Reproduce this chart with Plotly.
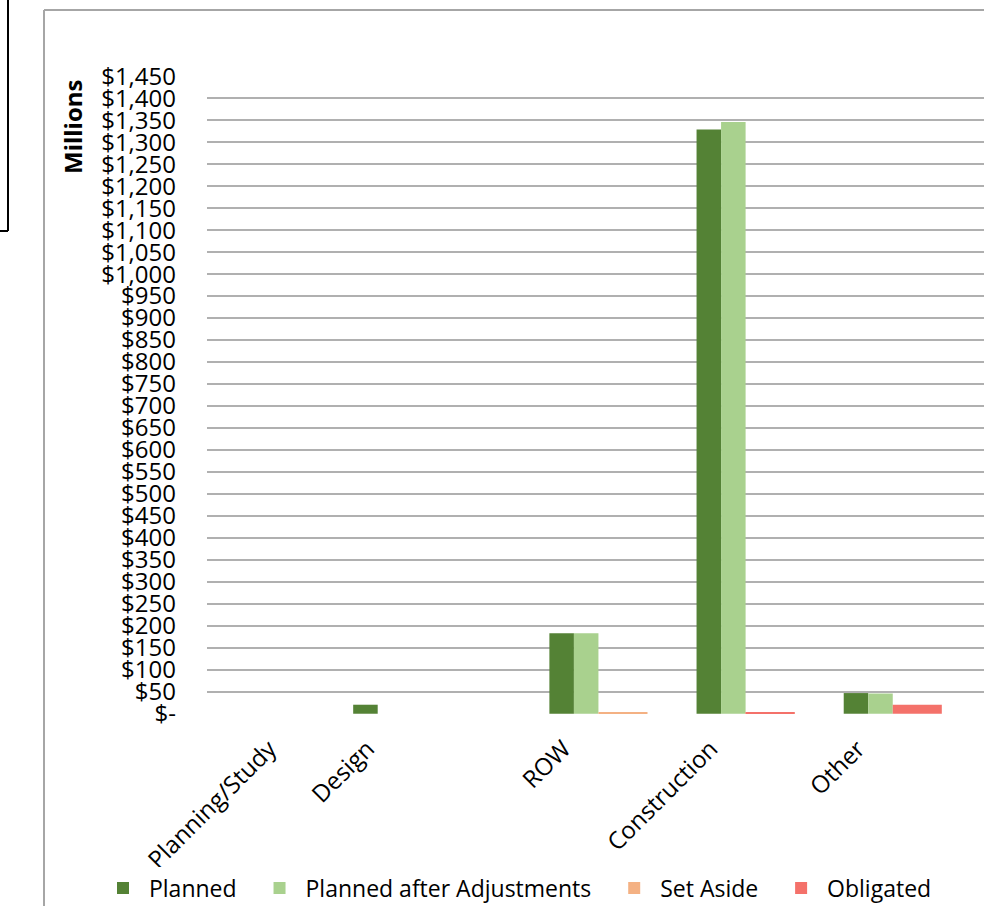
import plotly.graph_objects as go

# ---- data ----
categories = ["Planning/Study", "Design", "ROW", "Construction", "Other"]
category_slots = [0, 2, 6, 9, 12]          # uneven category spacing seen on the axis
planned = [0, 20.5, 183, 1329, 47]
planned_adj = [0, 0, 183, 1346, 46]
set_aside = [0, 0, 3, 3, 0]
obligated = [0, 0, 0, 2.5, 20.5]
series_names = ["Planned", "Planned after Adjustments", "Set Aside", "Obligated"]
y_ticks = list(range(0, 1451, 50))
y_tick_labels = ["$-" if v == 0 else "${:,}".format(v) for v in y_ticks]

W, H = 984, 906
L, R, T, B = 207, 0, 76, 192
PW, PH = W - L - R, H - T - B


def px(x):
    return (x - L) / PW


def py(y):
    return (H - B - y) / PH


FONT = "Open Sans"
NB = "\u00a0"
styles = [
    ("#548235", 0.5, -1.0),
    ("#a9d18e", 0.5, -0.5),
    ("#f4b183", 1.0, 0.0),
    ("#f4716a", 1.0, 0.0),
]
values = [planned, planned_adj, set_aside, obligated]

fig = go.Figure()
for name, vals, (color, w, off) in zip(series_names, values, styles):
    fig.add_trace(go.Bar(
        x=category_slots, y=vals, name=NB + name + NB * 3,
        marker=dict(color=color, line=dict(width=0)),
        width=w, offset=off,
    ))

fig.update_layout(
    width=W, height=H,
    margin=dict(l=L, r=R, t=T, b=B, pad=0, autoexpand=False),
    paper_bgcolor="white", plot_bgcolor="white",
    font=dict(family=FONT, color="black", size=23),
    barmode="overlay",
    showlegend=True,
    legend=dict(
        orientation="h", xref="paper", yref="paper",
        x=px(103), y=py(888), xanchor="left", yanchor="middle",
        font=dict(family=FONT, size=23), itemwidth=30,
        traceorder="normal",
    ),
    xaxis=dict(
        range=[-1.98, 13.86], showgrid=False, zeroline=False,
        tickvals=[s - 0.71 for s in category_slots], ticktext=categories,
        tickangle=-45, ticks="", showline=False,
        tickfont=dict(family=FONT, size=24),
        ticklabelstandoff=15,
    ),
    yaxis=dict(
        range=[-0.6, 1450.6], tickvals=y_ticks, ticktext=y_tick_labels,
        showgrid=True, gridcolor="#b0b0b0", gridwidth=2,
        zeroline=False, showline=False, ticks="",
        tickfont=dict(family=FONT, size=24),
        ticklabelstandoff=30,
    ),
    annotations=[dict(
        text="<b>Millions</b>", textangle=-90,
        xref="paper", yref="paper", x=px(72), y=py(127),
        xanchor="center", yanchor="middle", showarrow=False,
        font=dict(family=FONT, size=24, color="black"),
    )],
    shapes=[
        dict(type="line", xref="paper", yref="paper",
             x0=px(44), x1=px(44), y0=py(10), y1=py(906),
             line=dict(color="#a6a6a6", width=2)),
        dict(type="line", xref="paper", yref="paper",
             x0=px(44), x1=px(984), y0=py(10), y1=py(10),
             line=dict(color="#a6a6a6", width=2)),
        dict(type="line", xref="paper", yref="paper",
             x0=px(8), x1=px(8), y0=py(0), y1=py(231),
             line=dict(color="black", width=2)),
        dict(type="line", xref="paper", yref="paper",
             x0=px(0), x1=px(8), y0=py(231), y1=py(231),
             line=dict(color="black", width=2)),
    ],
)

fig.write_html("out.html")
